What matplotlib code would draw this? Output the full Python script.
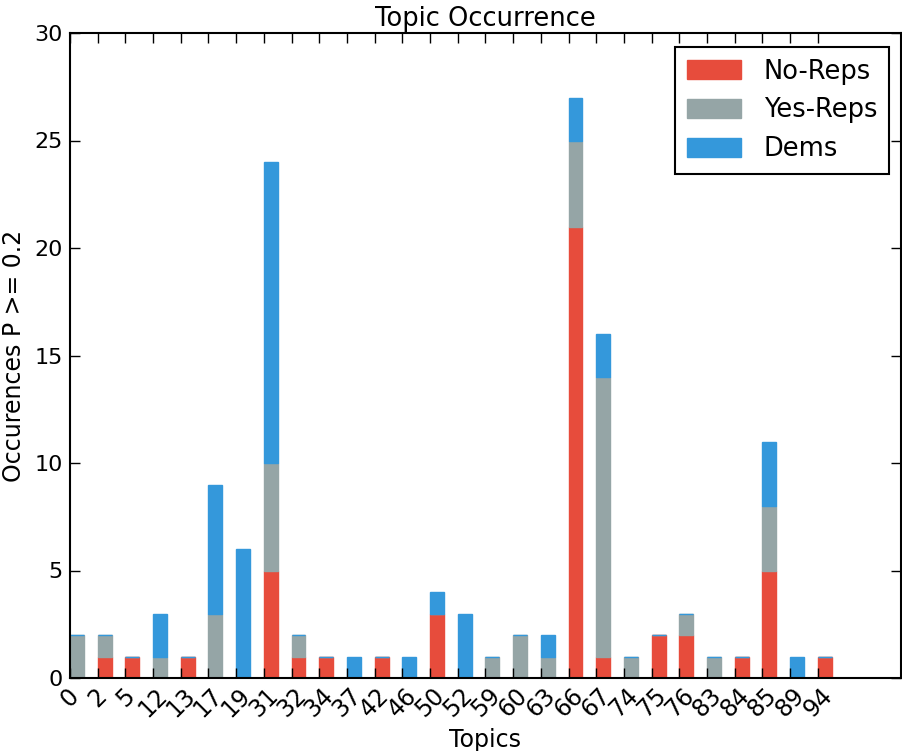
import matplotlib
matplotlib.use("Agg")
import matplotlib.pyplot as plt
import numpy as np

topics = ["0", "2", "5", "12", "13", "17", "19", "31", "32", "34", "37", "42", "46", "50",
          "52", "59", "60", "63", "66", "67", "74", "75", "76", "83", "84", "85", "89", "94"]
no_reps = [0, 1, 1, 0, 1, 0, 0, 5, 1, 1, 0, 1, 0, 3, 0, 0, 0, 0, 21, 1, 0, 2, 2, 0, 1, 5, 0, 1]
yes_reps = [2, 1, 0, 1, 0, 3, 0, 5, 1, 0, 0, 0, 0, 0, 0, 1, 2, 1, 4, 13, 1, 0, 1, 1, 0, 3, 0, 0]
dems = [0, 0, 0, 2, 0, 6, 6, 14, 0, 0, 1, 0, 1, 1, 3, 0, 0, 1, 2, 2, 0, 0, 0, 0, 0, 3, 1, 0]

c_red = "#e74c3c"
c_gray = "#95a5a6"
c_blue = "#3498db"

fig = plt.figure(figsize=(9.03, 7.51), dpi=100)
ax = fig.add_axes([70/903, 1-678/751, 831/903, (678-33)/751])

x = np.arange(len(topics))
nr = np.array(no_reps)
yr = np.array(yes_reps)
dm = np.array(dems)
w = 0.5
ax.bar(x, nr, w, align="edge", color=c_red, edgecolor=c_red, linewidth=1, label="No-Reps")
ax.bar(x, yr, w, bottom=nr, align="edge", color=c_gray, edgecolor=c_gray, linewidth=1, label="Yes-Reps")
ax.bar(x, dm, w, bottom=nr+yr, align="edge", color=c_blue, edgecolor=c_blue, linewidth=1, label="Dems")

ax.set_xlim(0, 30)
ax.set_ylim(0, 30)
ax.set_xticks(x)
ax.set_xticklabels(topics, rotation=45, fontsize=17)
ax.set_yticks([0, 5, 10, 15, 20, 25, 30])
ax.tick_params(axis="y", labelsize=16, pad=5)
ax.tick_params(direction="in", length=7, width=1, top=True, right=True)
ax.tick_params(axis="x", pad=4)
for s in ax.spines.values():
    s.set_linewidth(1.5)

ax.set_title("Topic Occurrence", fontsize=18.5, pad=5)
ax.set_xlabel("Topics", fontsize=17, labelpad=4)
ax.set_ylabel("Occurences P >= 0.2", fontsize=17, labelpad=6)

leg = ax.legend(loc="upper right", fontsize=18.5, fancybox=False, framealpha=1,
                edgecolor="black", handlelength=2.1, handleheight=0.75,
                borderpad=0.45, labelspacing=0.5, handletextpad=0.9,
                borderaxespad=0, bbox_to_anchor=((889-70)/831, (678-47)/645))
leg.get_frame().set_linewidth(1.5)

fig.savefig("out.png", dpi=100)
